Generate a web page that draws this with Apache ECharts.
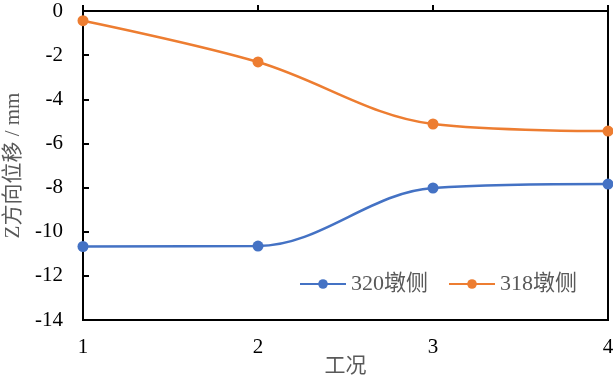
<!DOCTYPE html>
<html>
<head>
<meta charset="utf-8">
<script src="https://cdn.jsdelivr.net/npm/echarts@6/dist/echarts.min.js"></script>
<style>
  html, body { margin: 0; padding: 0; background: #fff; }
  #chart { width: 613px; height: 378px; }
</style>
</head>
<body>
<div id="chart"></div>
<script>
const categories = ['1', '2', '3', '4']
const pier320 = [-10.67, -10.65, -8.02, -7.84]
const pier318 = [-0.44, -2.31, -5.12, -5.44]

const chart = echarts.init(document.getElementById('chart'))
const font = '"Liberation Serif", "Noto Sans CJK SC", serif'

const option = {
  animation: false,
  textStyle: { fontFamily: font },
  grid: {
    left: 83,
    right: 5,
    top: 11,
    bottom: 58,
    outerBoundsMode: 'none',
    containLabel: false,
    show: true,
    borderColor: '#000',
    borderWidth: 2
  },
  legend: {
    left: 294,
    top: 268,
    itemWidth: 46,
    itemHeight: 12,
    itemGap: 20,
    textStyle: { color: '#595959', fontSize: 22, fontFamily: font },
    data: ['320墩侧', '318墩侧']
  },
  xAxis: {
    type: 'category',
    data: categories,
    boundaryGap: false,
    name: '工况',
    nameLocation: 'middle',
    nameGap: 36,
    nameMoveOverlap: false,
    nameTextStyle: { color: '#595959', fontSize: 21, fontFamily: font },
    axisLine: { lineStyle: { color: '#000', width: 2 } },
    axisTick: { inside: true, length: 6, lineStyle: { color: '#000', width: 2 } },
    axisLabel: { color: '#000', fontSize: 21, margin: 17 },
    splitLine: { show: false }
  },
  yAxis: {
    type: 'value',
    min: -14,
    max: 0,
    interval: 2,
    name: 'Z方向位移 / mm',
    nameLocation: 'middle',
    nameGap: 59,
    nameMoveOverlap: false,
    nameTextStyle: { color: '#595959', fontSize: 21, fontFamily: font },
    axisLine: { show: true, lineStyle: { color: '#000', width: 2 } },
    axisTick: { show: true, inside: true, length: 6, lineStyle: { color: '#000', width: 2 } },
    axisLabel: { color: '#000', fontSize: 21, margin: 20 },
    splitLine: { show: false }
  },
  series: [
    {
      name: '320墩侧',
      type: 'line',
      data: pier320,
      smooth: 0.35,
      symbol: 'circle',
      symbolSize: 11,
      lineStyle: { color: '#4472C4', width: 2.5 },
      itemStyle: { color: '#4472C4' }
    },
    {
      name: '318墩侧',
      type: 'line',
      data: pier318,
      smooth: 0.35,
      symbol: 'circle',
      symbolSize: 11,
      lineStyle: { color: '#ED7D31', width: 2.5 },
      itemStyle: { color: '#ED7D31' }
    }
  ]
}

chart.setOption(option)
</script>
</body>
</html>
